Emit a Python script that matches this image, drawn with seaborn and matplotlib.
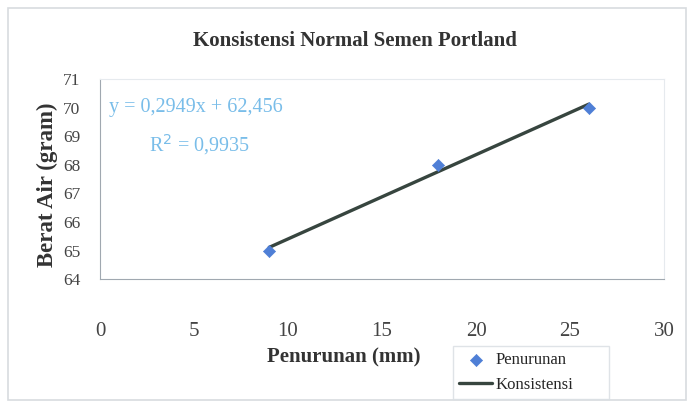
import matplotlib
matplotlib.use("Agg")
import matplotlib.pyplot as plt
import matplotlib.patches as patches
import numpy as np
import pandas as pd
import seaborn as sns

# Data
penurunan = [9, 18, 26]        # mm
berat_air = [65, 68, 70]       # gram
x_ticks = [0, 5, 10, 15, 20, 25, 30]
y_ticks = [64, 65, 66, 67, 68, 69, 70, 71]

df = pd.DataFrame({"Penurunan": penurunan, "Berat Air": berat_air})

sns.set_style("white")
plt.rcParams["font.family"] = ["Liberation Serif", "DejaVu Serif"]

fig = plt.figure(figsize=(6.9, 4.08), dpi=100)
ax = fig.add_axes([0.145, 0.316, 0.8173, 0.490])

# trendline (linear fit over data range)
sns.regplot(x="Penurunan", y="Berat Air", data=df, ax=ax, scatter=False, ci=None,
            truncate=True, color="#37453f", label="Konsistensi", line_kws={"linewidth": 2.4})
sns.scatterplot(x="Penurunan", y="Berat Air", data=df, ax=ax, marker="D", s=38,
                color="#4f7fd6", edgecolor="#4f7fd6", zorder=3, label="Penurunan")

slope, intercept = np.polyfit(penurunan, berat_air, 1)
pred = np.polyval([slope, intercept], penurunan)
r2 = 1 - np.sum((np.array(berat_air) - pred) ** 2) / np.sum((np.array(berat_air) - np.mean(berat_air)) ** 2)
eq = f"y = {slope:.4f}x + {intercept:.3f}".replace(".", ",")
ax.text(0.5, 70.0, eq, fontsize=14.5, color="#79bde9", va="center")
ax.text(2.6, 68.7, f"R$^2$ = {r2:.4f}".replace(".", ","), fontsize=14.5, color="#79bde9", va="center")

ax.set_xlim(0, 30)
ax.set_ylim(64, 71)
ax.set_xticks(x_ticks)
ax.set_yticks(y_ticks)
ax.tick_params(axis="x", labelsize=15, colors="#a0a8b0", labelcolor="#444444", length=5, direction="out", pad=26)
ax.tick_params(axis="y", labelsize=12.5, colors="#a0a8b0", labelcolor="#444444", length=5, direction="out", pad=9)
for side in ["left", "bottom"]:
    ax.spines[side].set_color("#a0a8b0")
for side in ["top", "right"]:
    ax.spines[side].set_color("#e6eaee")

ax.set_xlabel("Penurunan (mm)", fontsize=15, fontweight="bold", color="#333333")
ax.xaxis.set_label_coords(0.432, -0.34)
ax.set_ylabel("Berat Air (gram)", fontsize=16.5, fontweight="bold", color="#333333")
ax.yaxis.set_label_coords(-0.075, 0.47)
fig.text(0.515, 0.9, "Konsistensi Normal Semen Portland", fontsize=15, fontweight="bold",
         color="#333333", ha="center", va="center")

handles, labels = ax.get_legend_handles_labels()
order = [labels.index("Penurunan"), labels.index("Konsistensi")]
if ax.legend_:
    ax.legend_.remove()
fig.legend([handles[i] for i in order], [labels[i] for i in order],
           loc="lower left", bbox_to_anchor=(0.657, 0.022, 0.225, 0.137), mode="expand",
           fontsize=12, frameon=True, edgecolor="#d8dde2", fancybox=False,
           handlelength=2.0, handletextpad=0.2, borderpad=0.35, labelspacing=0.55, borderaxespad=0)

fig.patches.append(patches.Rectangle((0.012, 0.02), 0.982, 0.96, transform=fig.transFigure,
                                     fill=False, edgecolor="#d8dcdf", linewidth=1.2))

fig.savefig("out.png", dpi=100)
